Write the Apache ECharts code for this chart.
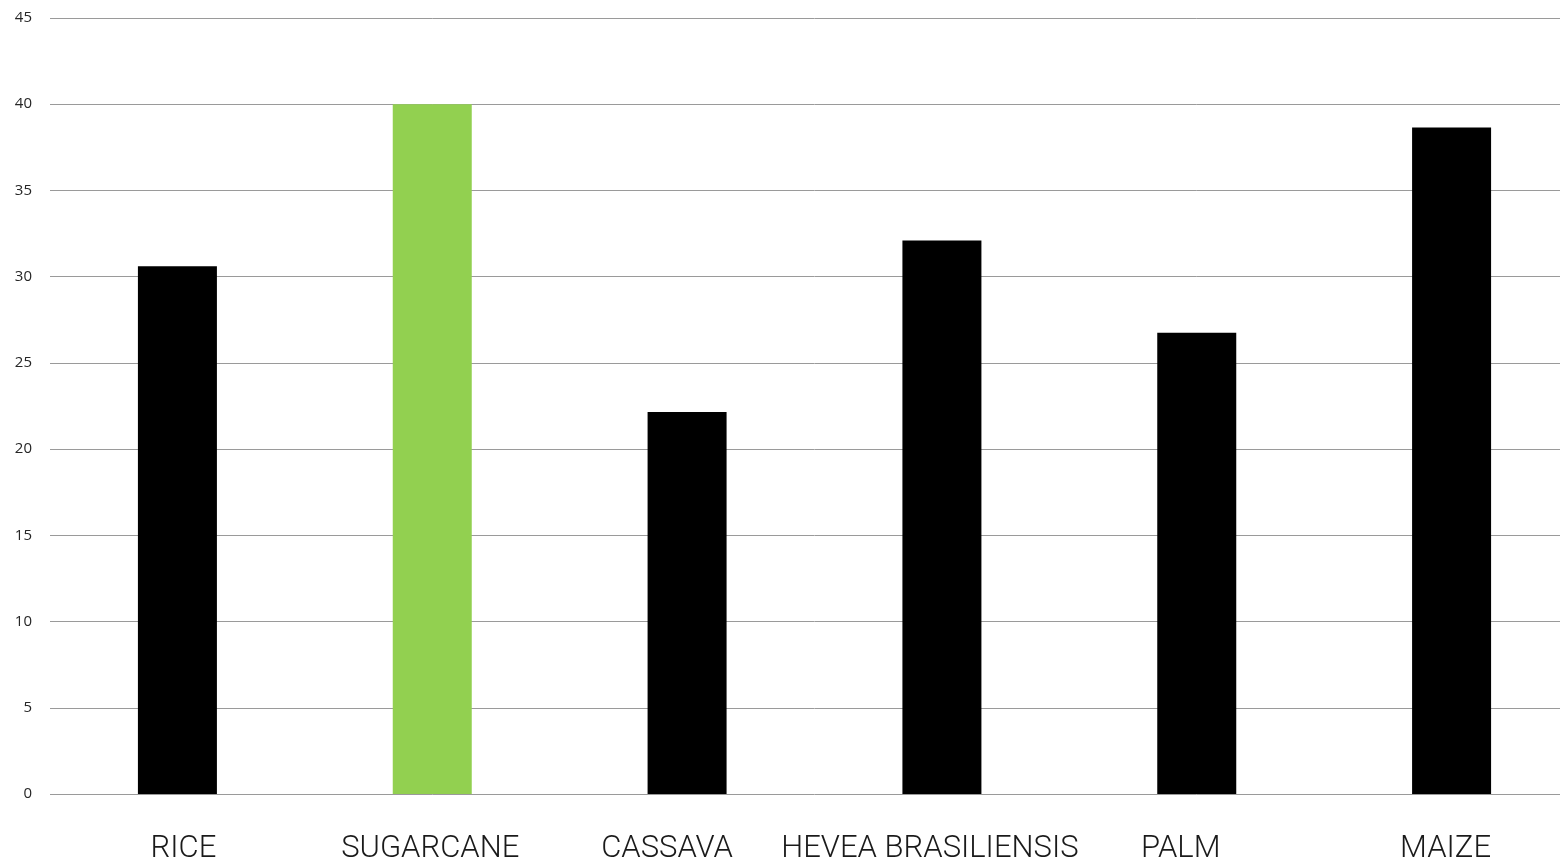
<!DOCTYPE html>
<html><head><meta charset="utf-8">
<script src="https://cdn.jsdelivr.net/npm/echarts@6/dist/echarts.min.js"></script>
<style>html,body{margin:0;padding:0;background:#fff;overflow:hidden;width:1560px;height:865px}#c{width:1579px;height:865px}</style>
</head><body><div id="c"></div>
<script>
const categories = ["RICE", "SUGARCANE", "CASSAVA", "HEVEA BRASILIENSIS", "PALM", "MAIZE"];
const values = [30.6, 40.0, 22.15, 32.1, 26.75, 38.65];
const barColors = ["#000000", "#92d050", "#000000", "#000000", "#000000", "#000000"];
const yTicks = { min: 0, max: 45, interval: 5 };
// horizontal nudge of each category label (style only)
const labelShift = [6, -2, -20, -12, -16, -6];

const chart = echarts.init(document.getElementById('c'), null, { renderer: 'canvas' });
chart.setOption({
  animation: false,
  backgroundColor: '#ffffff',
  grid: { left: 50, right: 0, top: 18, bottom: 71, containLabel: false },
  xAxis: {
    type: 'category',
    data: categories.map((c, i) => ({
      value: c,
      textStyle: { padding: labelShift[i] >= 0 ? [0, 0, 0, 2 * labelShift[i]] : [0, -2 * labelShift[i], 0, 0] }
    })),
    axisLine: { show: false },
    axisTick: { show: false },
    axisLabel: { interval: 0, margin: 40, fontFamily: 'Roboto', fontWeight: 300, fontSize: 31, color: '#1a1a1a' }
  },
  yAxis: {
    type: 'value',
    min: yTicks.min, max: yTicks.max, interval: yTicks.interval,
    axisLine: { show: false },
    axisTick: { show: false },
    splitLine: { lineStyle: { color: '#9a9a9a', width: 1 } },
    axisLabel: { margin: 18, fontFamily: 'Open Sans', fontSize: 15, color: '#262626' }
  },
  series: [{
    type: 'bar',
    data: values.map((v, i) => ({ value: v, itemStyle: { color: barColors[i] } })),
    barWidth: 79
  }]
});
</script></body></html>
